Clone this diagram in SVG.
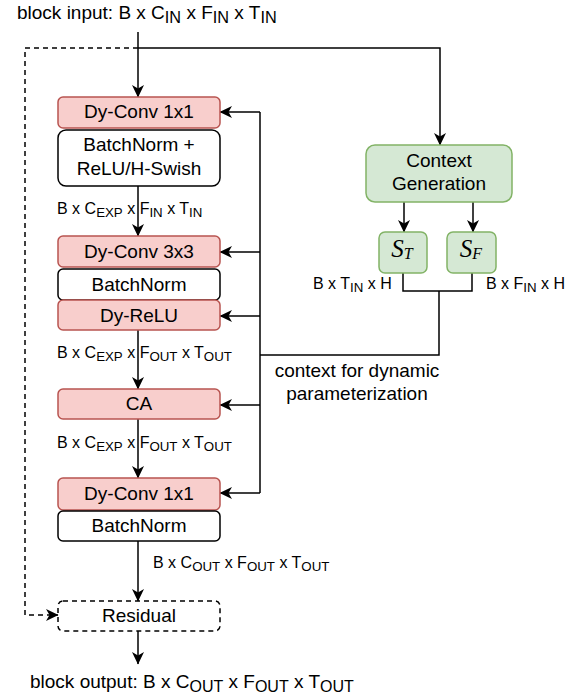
<svg xmlns="http://www.w3.org/2000/svg" width="583" height="698" viewBox="0 0 583 698">
<style>
text{font-family:"Liberation Sans",Arial,Helvetica,sans-serif;fill:#000}
.lbl{font-size:19px;text-anchor:middle}
.dim{font-size:16px}
.big{font-size:19px}
.red{fill:#f8cecc;stroke:#b85450;stroke-width:1.5}
.wht{fill:#fff;stroke:#000;stroke-width:1.5}
.grn{fill:#d5e8d4;stroke:#82b366;stroke-width:1.5}
.ln{fill:none;stroke:#000;stroke-width:1.5}
.dash{fill:none;stroke:#000;stroke-width:1.5;stroke-dasharray:5 4}
.math{font-family:"Liberation Serif","Times New Roman",serif;font-style:italic;text-anchor:middle}
</style>
<defs>
<marker id="ah" markerUnits="userSpaceOnUse" markerWidth="13" markerHeight="13" viewBox="0 0 13 13" refX="12" refY="6.5" orient="auto">
<path d="M0,0.5 L12.5,6.5 L0,12.5 L3.5,6.5 Z" fill="#000"/>
</marker>
</defs>

<g id="title"><text class="big" x="17" y="19" font-size="19.4">block input: B x C<tspan dy="4" font-size="16.3">IN</tspan><tspan dy="-4"> x F</tspan><tspan dy="4" font-size="16.3">IN</tspan><tspan dy="-4"> x T</tspan><tspan dy="4" font-size="16.3">IN</tspan></text></g>

<g id="connectors">
<path class="ln" d="M138,32 V97" marker-end="url(#ah)"/>
<path class="ln" d="M138,48 H440 V145" marker-end="url(#ah)"/>
<path class="dash" d="M138,48 H25 V615 H58" marker-end="url(#ah)"/>
<path class="ln" d="M138,186 V236" marker-end="url(#ah)"/>
<path class="ln" d="M138,330 V389" marker-end="url(#ah)"/>
<path class="ln" d="M138,419 V478" marker-end="url(#ah)"/>
<path class="ln" d="M138,541 V601" marker-end="url(#ah)"/>
<path class="ln" d="M138,631 V664" marker-end="url(#ah)"/>
<path class="ln" d="M404,202 V232" marker-end="url(#ah)"/>
<path class="ln" d="M473,202 V232" marker-end="url(#ah)"/>
<path class="ln" d="M403,273 V291 H472 V273"/>
<path class="ln" d="M439,291 V355 H260"/>
<path class="ln" d="M260,112 V493"/>
<path class="ln" d="M260,112 H220" marker-end="url(#ah)"/>
<path class="ln" d="M260,252 H220" marker-end="url(#ah)"/>
<path class="ln" d="M260,316 H220" marker-end="url(#ah)"/>
<path class="ln" d="M260,405 H220" marker-end="url(#ah)"/>
<path class="ln" d="M260,493 H220" marker-end="url(#ah)"/>
</g>

<g id="dyconv1"><rect class="red" x="58" y="97" width="162" height="31" rx="5"/><text class="lbl" x="139" y="118">Dy-Conv 1x1</text></g>
<g id="bnrelu"><rect class="wht" x="58" y="130" width="162" height="56" rx="8"/><text class="lbl" x="139" y="151">BatchNorm +</text><text class="lbl" x="139" y="175">ReLU/H-Swish</text></g>
<g id="dyconv3"><rect class="red" x="58" y="236" width="162" height="31" rx="5"/><text class="lbl" x="139" y="258">Dy-Conv 3x3</text></g>
<g id="bn1"><rect class="wht" x="58" y="269" width="162" height="31" rx="5"/><text class="lbl" x="139" y="291">BatchNorm</text></g>
<g id="dyrelu"><rect class="red" x="58" y="300" width="162" height="30" rx="5"/><text class="lbl" x="139" y="322">Dy-ReLU</text></g>
<g id="ca"><rect class="red" x="58" y="389" width="162" height="30" rx="5"/><text class="lbl" x="139" y="410">CA</text></g>
<g id="dyconv1b"><rect class="red" x="58" y="478" width="162" height="32" rx="5"/><text class="lbl" x="139" y="500">Dy-Conv 1x1</text></g>
<g id="bn2"><rect class="wht" x="58" y="511" width="162" height="30" rx="5"/><text class="lbl" x="139" y="532">BatchNorm</text></g>
<g id="residual"><rect class="dash" x="58" y="601" width="162" height="30" rx="5"/><text class="lbl" x="139" y="622">Residual</text></g>

<g id="context"><rect class="grn" x="366" y="145" width="146" height="57" rx="9"/><text class="lbl" x="439" y="167">Context</text><text class="lbl" x="439" y="190">Generation</text></g>
<g id="st"><rect class="grn" x="379" y="232" width="48" height="41" rx="6"/><text class="math" x="402" y="257" font-size="25">S<tspan font-size="16" dy="2">T</tspan></text></g>
<g id="sf"><rect class="grn" x="447" y="232" width="49" height="41" rx="6"/><text class="math" x="471" y="257" font-size="25">S<tspan font-size="16" dy="2">F</tspan></text></g>

<g id="labels">
<text class="dim" x="57" y="214">B x C<tspan dy="3" font-size="13.3">EXP</tspan><tspan dy="-3"> x F</tspan><tspan dy="3" font-size="13.3">IN</tspan><tspan dy="-3"> x T</tspan><tspan dy="3" font-size="13.3">IN</tspan></text>
<text class="dim" x="57" y="358">B x C<tspan dy="3" font-size="13.3">EXP</tspan><tspan dy="-3"> x F</tspan><tspan dy="3" font-size="13.3">OUT</tspan><tspan dy="-3"> x T</tspan><tspan dy="3" font-size="13.3">OUT</tspan></text>
<text class="dim" x="57" y="448">B x C<tspan dy="3" font-size="13.3">EXP</tspan><tspan dy="-3"> x F</tspan><tspan dy="3" font-size="13.3">OUT</tspan><tspan dy="-3"> x T</tspan><tspan dy="3" font-size="13.3">OUT</tspan></text>
<text class="dim" x="153" y="568">B x C<tspan dy="3" font-size="13.3">OUT</tspan><tspan dy="-3"> x F</tspan><tspan dy="3" font-size="13.3">OUT</tspan><tspan dy="-3"> x T</tspan><tspan dy="3" font-size="13.3">OUT</tspan></text>
<text class="dim" x="313" y="289">B x T<tspan dy="3" font-size="13.3">IN</tspan><tspan dy="-3"> x H</tspan></text>
<text class="dim" x="486" y="289">B x F<tspan dy="3" font-size="13.3">IN</tspan><tspan dy="-3"> x H</tspan></text>
<text class="lbl" x="357" y="377">context for dynamic</text>
<text class="lbl" x="357" y="400">parameterization</text>
<text class="big" x="30" y="688">block output: B x C<tspan dy="4" font-size="16">OUT</tspan><tspan dy="-4"> x F</tspan><tspan dy="4" font-size="16">OUT</tspan><tspan dy="-4"> x T</tspan><tspan dy="4" font-size="16">OUT</tspan></text>
</g>
</svg>
